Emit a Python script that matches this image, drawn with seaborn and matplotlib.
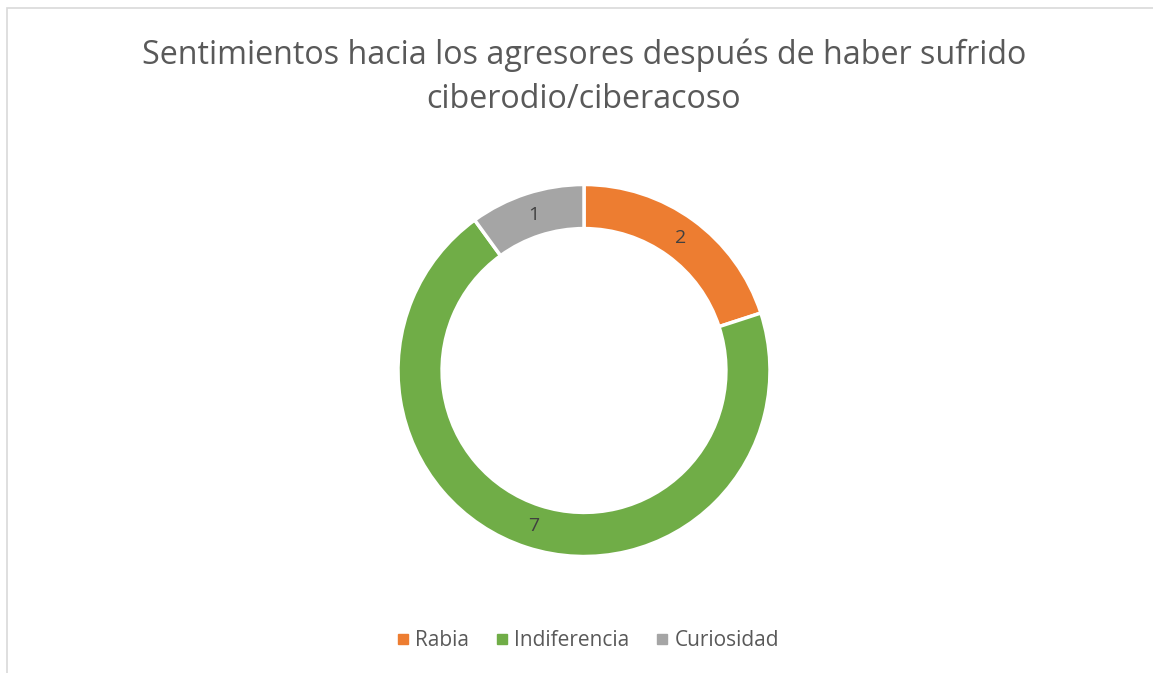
import matplotlib
matplotlib.use("Agg")
import matplotlib.pyplot as plt
import seaborn as sns
from matplotlib.lines import Line2D
from matplotlib.patches import Rectangle

# Data
categories = ["Rabia", "Indiferencia", "Curiosidad"]
values = [2, 7, 1]
colors = ["#ED7D31", "#70AD47", "#A5A5A5"]
title = "Sentimientos hacia los agresores después de haber sufrido\nciberodio/ciberacoso"

sns.set_theme(style="white")
plt.rcParams["font.family"] = ["Open Sans", "DejaVu Sans"]

W, H = 1153, 673
fig = plt.figure(figsize=(W / 100, H / 100), dpi=100)
fig.patch.set_facecolor("white")

# chart border (right and bottom edges are cut off in the reference)
fig.patches.append(Rectangle((7 / W, -0.1), 1.2, (H - 8) / H + 0.1,
                             transform=fig.transFigure, fill=False,
                             edgecolor="#D9D9D9", linewidth=1.2))

# donut axes: centre (584, 370), outer radius 186 px
cx, cy, r = 584, 370.5, 186
ax = fig.add_axes([(cx - r) / W, (H - cy - r) / H, 2 * r / W, 2 * r / H])
total = sum(values)
wedges, texts, autotexts = ax.pie(
    values, colors=colors, startangle=90, counterclock=False, radius=1,
    wedgeprops=dict(width=0.237, edgecolor="white", linewidth=2.5),
    autopct=lambda p: f"{round(p * total / 100)}", pctdistance=0.88,
    textprops=dict(color="#404040", fontsize=14))
ax.set_xlim(-1, 1)
ax.set_ylim(-1, 1)
ax.axis("off")

fig.text(cx / W, 1 - 77 / H, title, ha="center", va="center",
         fontsize=23.2, color="#595959", linespacing=1.45)

handles = [Line2D([0], [0], marker="s", linestyle="", markersize=7.2,
                  markerfacecolor=c, markeredgecolor=c) for c in colors]
fig.legend(handles, categories, loc="center", bbox_to_anchor=(588 / W, 1 - 641 / H),
           ncol=3, frameon=False, fontsize=15, handlelength=0.6,
           handletextpad=0.28, columnspacing=1.28, labelcolor="#595959")

fig.savefig("out.png", dpi=100, facecolor="white")
